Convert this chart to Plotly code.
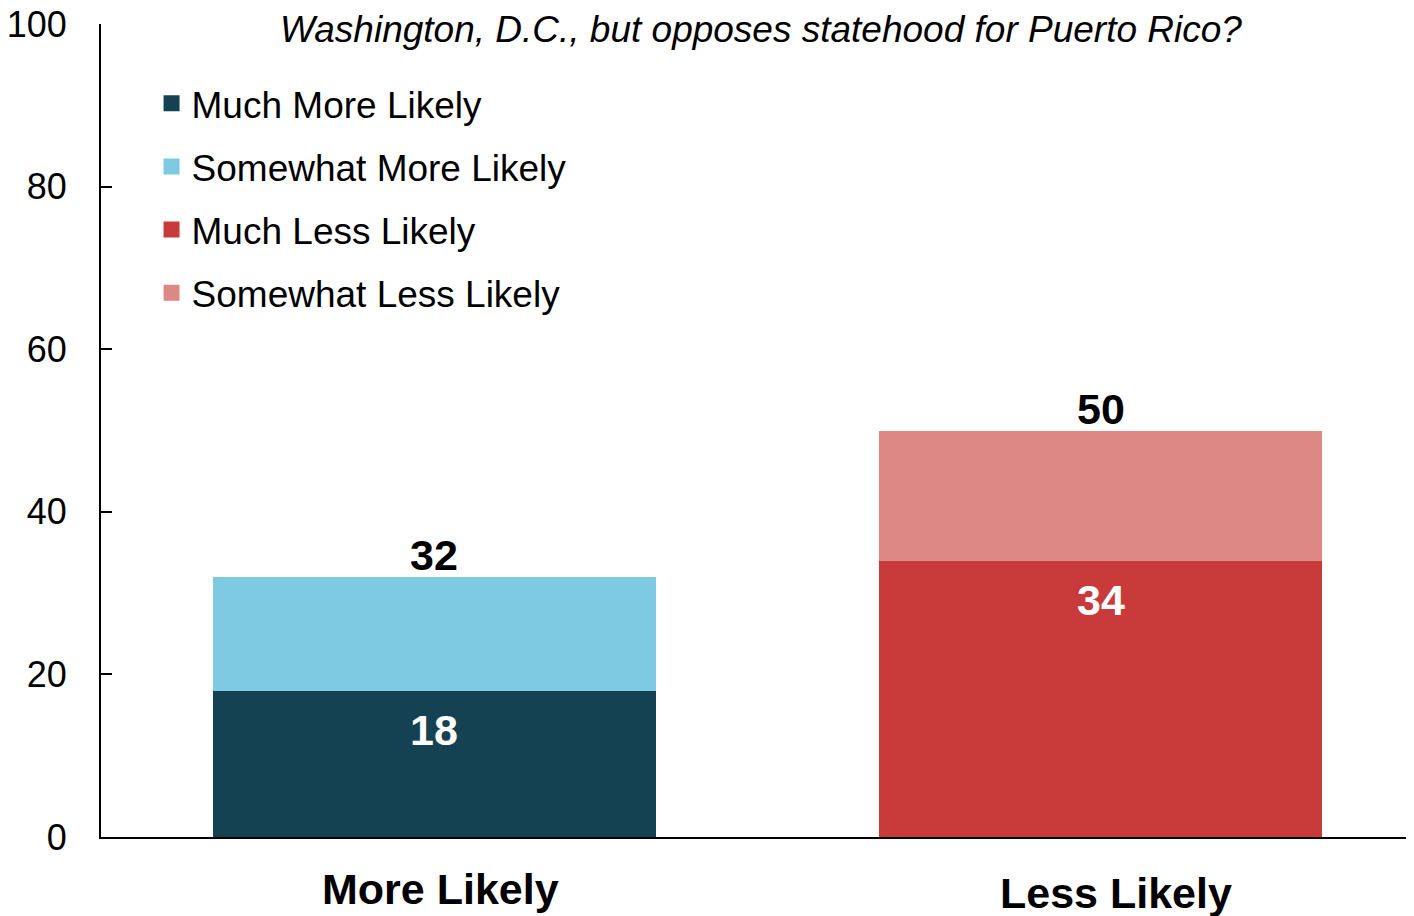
import plotly.graph_objects as go

categories = ["More Likely", "Less Likely"]
series_names = ["Much More Likely", "Somewhat More Likely", "Much Less Likely", "Somewhat Less Likely"]
series_cats = ["More Likely", "More Likely", "Less Likely", "Less Likely"]
series_values = [18, 14, 34, 16]
series_colors = ["#154252", "#7ECAE3", "#C93B3B", "#DE8886"]
inner_labels = {"More Likely": 18, "Less Likely": 34}
totals = {"More Likely": 32, "Less Likely": 50}
y_ticks = [0, 20, 40, 60, 80, 100]
title_line1 = "Would you be more likely to vote for a candidate who supports statehood for"
title_line2 = "Washington, D.C., but opposes statehood for Puerto Rico?"

FONT = "Liberation Sans, Arial, sans-serif"

fig = go.Figure()
for i, (name, cat, val, col) in enumerate(zip(series_names, series_cats, series_values, series_colors)):
    fig.add_trace(go.Bar(
        x=[cat], y=[val], name=name, marker=dict(color=col, line=dict(width=0)),
        width=0.665, hoverinfo="skip", showlegend=False,
    ))
    # legend entry with a square swatch
    fig.add_trace(go.Scatter(
        x=[None], y=[None], mode="markers", name=name, legendgroup=f"g{i}",
        marker=dict(symbol="square", size=20, color=col), hoverinfo="skip",
    ))

annotations = []
for cat, v in inner_labels.items():
    annotations.append(dict(x=cat, y=v, xref="x", yref="y", text=f"<b>{v}</b>",
                            showarrow=False, yanchor="top", yshift=-13,
                            font=dict(family=FONT, size=43, color="white")))
for cat, v in totals.items():
    annotations.append(dict(x=cat, y=v, xref="x", yref="y", text=f"<b>{v}</b>",
                            showarrow=False, yanchor="bottom", yshift=-4,
                            font=dict(family=FONT, size=43, color="black")))
cat_shift = {"More Likely": (6, -0.064), "Less Likely": (15, -0.069)}
for cat in categories:
    xs, yp = cat_shift[cat]
    annotations.append(dict(x=cat, y=yp, xref="x", yref="paper", text=f"<b>{cat}</b>",
                            showarrow=False, yanchor="middle", xshift=xs,
                            font=dict(family=FONT, size=43, color="black")))
annotations.append(dict(x=0.503, y=0.966, xref="paper", yref="paper",
                        text="<i>" + title_line2 + "</i>",
                        showarrow=False, yanchor="bottom", xanchor="center", align="center",
                        font=dict(family=FONT, size=37, color="black")))
annotations.append(dict(x=0.503, y=1.0225, xref="paper", yref="paper",
                        text="<i>" + title_line1 + "</i>",
                        showarrow=False, yanchor="bottom", xanchor="center", align="center",
                        font=dict(family=FONT, size=37, color="black")))

fig.update_layout(
    width=1414, height=916,
    margin=dict(l=93, r=8, t=16, b=87, autoexpand=False),
    barmode="stack",
    paper_bgcolor="white", plot_bgcolor="white",
    font=dict(family=FONT, size=36, color="black"),
    showlegend=True,
    legend=dict(x=0.0385, y=0.94, xanchor="left", yanchor="top",
                bgcolor="rgba(0,0,0,0)", font=dict(family=FONT, size=37, color="black"),
                traceorder="grouped", tracegroupgap=12),
    annotations=annotations,
    xaxis=dict(categoryorder="array", categoryarray=categories, range=[-0.5, 1.47],
               showticklabels=False, ticks="", showgrid=False, zeroline=False,
               showline=True, linecolor="black", linewidth=2, automargin=False),
    yaxis=dict(range=[0, 100], tickvals=y_ticks, ticks="inside", ticklen=11, tickwidth=2,
               tickcolor="black", showgrid=False, zeroline=False, showline=True,
               linecolor="black", linewidth=2, ticklabelstandoff=25,
               ticklabeloverflow="allow", automargin=False,
               tickfont=dict(family=FONT, size=36, color="black")),
)

fig.write_html("out.html")
